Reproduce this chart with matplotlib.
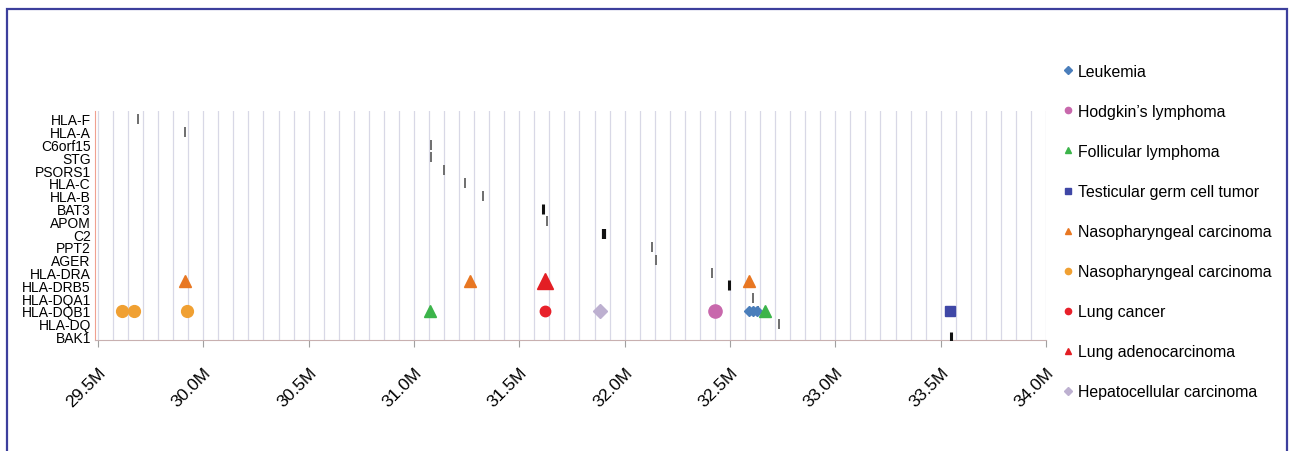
import numpy as np
import matplotlib
matplotlib.use('Agg')
import matplotlib.pyplot as plt
import matplotlib.transforms as mtransforms
from matplotlib.lines import Line2D
from matplotlib.patches import Rectangle

plt.rcParams['font.family'] = ['Liberation Sans', 'DejaVu Sans']

# ==============data===============
genes = ['HLA-F', 'HLA-A', 'C6orf15', 'STG', 'PSORS1', 'HLA-C', 'HLA-B',
         'BAT3', 'APOM', 'C2', 'PPT2', 'AGER', 'HLA-DRA', 'HLA-DRB5',
         'HLA-DQA1', 'HLA-DQB1', 'HLA-DQ', 'BAK1']
# gene location on chr6 (Mb)
gene_pos = [29.69, 29.914, 31.082, 31.082, 31.142, 31.242, 31.326, 31.614,
            31.63, 31.903, 32.128, 32.151, 32.414, 32.496, 32.607, 32.631,
            32.731, 33.547]
dark_genes = ['BAT3', 'C2', 'HLA-DRB5', 'BAK1']

# disease associated positions (x in Mb, y in gene rows)
leuk_x = [32.59, 32.61, 32.63]
leuk_y = [15, 15, 15]
hodg_x = [32.43]
hodg_y = [15]
foll_x = [31.076, 32.667]
foll_y = [15, 15]
test_x = [33.544]
test_y = [15]
naso_tri_x = [29.914, 31.266, 32.591]
naso_tri_y = [12.65, 12.65, 12.65]
naso_circ_x = [29.615, 29.672, 29.922]
naso_circ_y = [15, 15, 15]
lung_x = [31.623]
lung_y = [15]
lungad_x = [31.621]
lungad_y = [12.65]
hep_x = [31.884]
hep_y = [15]

xticks = [29.5, 30.0, 30.5, 31.0, 31.5, 32.0, 32.5, 33.0, 33.5, 34.0]
xlabels = ['29.5M', '30.0M', '30.5M', '31.0M', '31.5M', '32.0M', '32.5M',
           '33.0M', '33.5M', '34.0M']

# ==============plot===============
fig = plt.figure(figsize=(12.9, 4.52), dpi=100)
ax = fig.add_axes([95 / 1290, 1 - 341 / 452, (1046 - 95) / 1290, (341 - 112) / 452])

for gx in np.linspace(29.5, 34.0, 64):
    ax.axvline(gx, color='#d8d8e6', lw=0.9, zorder=0)

rows = np.arange(len(genes))
for g, x, r in zip(genes, gene_pos, rows):
    if g in dark_genes:
        w = 3.0 if g == 'C2' else 2.2
        ax.plot(x, r, marker='|', ms=7.5, mew=w, color='#111111', ls='none', zorder=3)
    else:
        ax.plot(x, r, marker='|', ms=7, mew=1.4, color='#6e6e6e', ls='none', zorder=3)

series = [
    ('Leukemia', leuk_x, leuk_y, 'D', '#4a7ebb', 5.0),
    ("Hodgkin\u2019s lymphoma", hodg_x, hodg_y, 'o', '#c868ac', 9.5),
    ('Follicular lymphoma', foll_x, foll_y, '^', '#3cb44a', 8.5),
    ('Testicular germ cell tumor', test_x, test_y, 's', '#3f47a6', 7.0),
    ('Nasopharyngeal carcinoma', naso_tri_x, naso_tri_y, '^', '#e87722', 8.5),
    ('Nasopharyngeal carcinoma', naso_circ_x, naso_circ_y, 'o', '#f0a032', 8.5),
    ('Lung cancer', lung_x, lung_y, 'o', '#e8202a', 7.5),
    ('Lung adenocarcinoma', lungad_x, lungad_y, '^', '#e31e24', 11),
    ('Hepatocellular carcinoma', hep_x, hep_y, 'D', '#bdb0d0', 7.5),
]
handles = []
for name, xs, ys, m, c, s in series:
    ax.plot(xs, ys, marker=m, ms=s, color=c, mec=c, ls='none', zorder=4)
    handles.append(Line2D([], [], marker=m, ms=4.5, color=c, mec=c, ls='none', label=name))

ax.set_xlim(29.486, 34.0)
ax.set_ylim(17.27, -0.625)
ax.set_yticks(rows)
ax.set_yticklabels(genes, fontsize=10)
ax.tick_params(axis='y', length=0, pad=3)
ax.set_xticks(xticks)
ax.set_xticklabels(xlabels, fontsize=12.5, rotation=45, ha='right',
                   rotation_mode='anchor')
ax.tick_params(axis='x', length=5, color='#a0a0a0', pad=8)
offset = mtransforms.ScaledTranslation(0, -6 / 100, fig.dpi_scale_trans)
for lbl in ax.get_xticklabels():
    lbl.set_transform(lbl.get_transform() + offset)

for sp in ['top', 'right']:
    ax.spines[sp].set_visible(False)
ax.spines['left'].set_color('#f0a090')
ax.spines['bottom'].set_color('#c8b0b0')

fig.legend(handles=handles, loc='upper left', frameon=False,
           bbox_to_anchor=(1062 / 1290, 1 - 65 / 452), bbox_transform=fig.transFigure,
           borderaxespad=0, borderpad=0, fontsize=11.4, labelspacing=1.58,
           handlelength=0.7, handletextpad=0.3)

# blue frame around the figure
fig.patches.append(Rectangle((7 / 1290, -0.1), 1280 / 1290, 1.1 - 10 / 452,
                             transform=fig.transFigure, fill=False,
                             ec='#3c3f9c', lw=1.6))

plt.savefig('out.png', dpi=100)
